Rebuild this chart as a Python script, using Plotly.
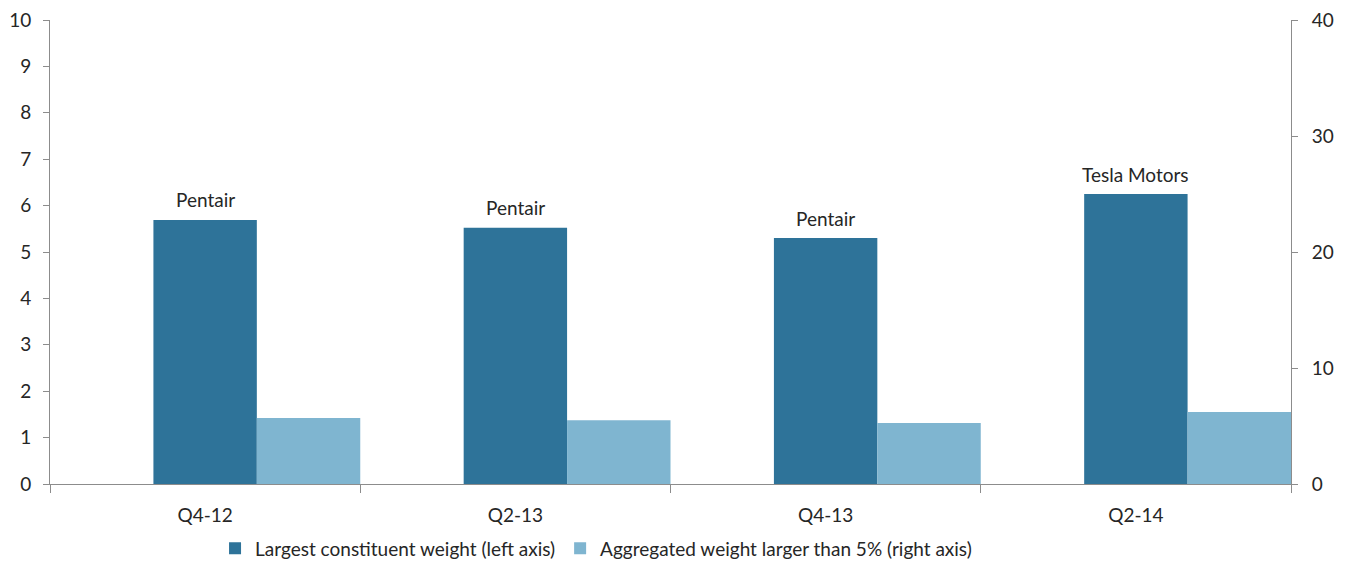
import plotly.graph_objects as go

quarters = ['Q4-12', 'Q2-13', 'Q4-13', 'Q2-14']
largest_weight = [5.69, 5.52, 5.30, 6.25]
aggregated_weight = [5.7, 5.5, 5.25, 6.2]
largest_names = ['Pentair', 'Pentair', 'Pentair', 'Tesla Motors']

DARK = '#2E7399'
LIGHT = '#7FB5D0'
AXIS = '#8C8C8C'
TEXT = '#262626'
FONT = 'Lato, Open Sans, sans-serif'

fig = go.Figure()
fig.add_trace(go.Bar(
    x=quarters, y=largest_weight, name='Largest constituent weight (left axis)',
    marker=dict(color=DARK, line_width=0), width=1/3, offset=-1/6, yaxis='y'
))
fig.add_trace(go.Bar(
    x=quarters, y=aggregated_weight, name='Aggregated weight larger than 5% (right axis)',
    marker=dict(color=LIGHT, line_width=0), width=1/3, offset=1/6, yaxis='y2'
))

for q, v, n in zip(quarters, largest_weight, largest_names):
    fig.add_annotation(x=q, y=v, text=n, showarrow=False, yshift=20,
                       font=dict(size=19, color=TEXT, family=FONT))

# page body has an 8px margin, so the figure is sized to fit inside the window
fig.update_layout(
    width=1341, height=557,
    plot_bgcolor='white', paper_bgcolor='white',
    margin=dict(l=42, r=58, t=12, b=81),
    barmode='overlay',
    font=dict(family=FONT, size=19, color=TEXT),
    showlegend=True,
    legend=dict(orientation='h', x=0.44, xanchor='center', yref='container', y=0.03,
                yanchor='middle', font=dict(size=19), itemwidth=30, tracegroupgap=0),
    xaxis=dict(
        showgrid=False, showline=True, linecolor=AXIS, linewidth=1, automargin=False,
        ticks='outside', tickson='boundaries', ticklen=8, tickcolor=AXIS,
        ticklabelstandoff=14, range=[-0.5, 3.5]
    ),
    yaxis=dict(
        range=[0, 10], dtick=1, showgrid=False, showline=True, linecolor=AXIS, automargin=False,
        ticks='outside', ticklen=6, tickcolor=AXIS, ticklabelstandoff=8, zeroline=False,
        ticklabeloverflow='allow'
    ),
    yaxis2=dict(
        range=[0, 40], dtick=10, overlaying='y', side='right', showgrid=False, automargin=False,
        showline=True, linecolor=AXIS, ticks='outside', ticklen=6, tickcolor=AXIS,
        ticklabelstandoff=10, zeroline=False, ticklabeloverflow='allow'
    ),
)

fig.write_html('out.html')
